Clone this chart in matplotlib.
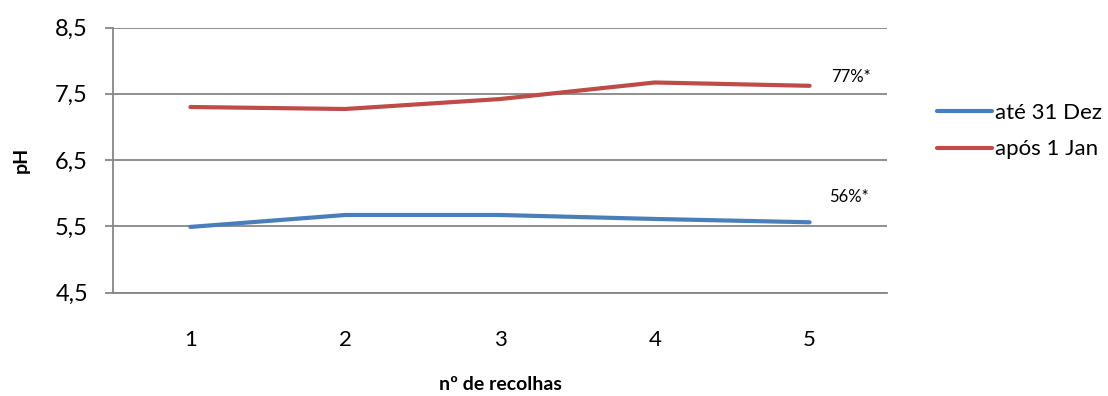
import matplotlib
matplotlib.use("Agg")
import matplotlib.pyplot as plt

categories = [1, 2, 3, 4, 5]
ate_31_dez = [5.49, 5.67, 5.67, 5.61, 5.56]
apos_1_jan = [7.30, 7.27, 7.42, 7.67, 7.62]
series_names = ["até 31 Dez", "após 1 Jan"]
end_labels = ["56%*", "77%*"]
yticks = [4.5, 5.5, 6.5, 7.5, 8.5]
ytick_labels = ["4,5", "5,5", "6,5", "7,5", "8,5"]

plt.rcParams['font.family'] = ['Lato', 'DejaVu Sans']

fig = plt.figure(figsize=(11.08, 3.96), dpi=100)
ax = fig.add_axes([113/1108, 1 - 292.5/396, (887-113)/1108, (292.5-27.5)/396])

blue = "#4A7EBB"
red = "#BE4B48"
grid = "#868686"

l1, = ax.plot(categories, ate_31_dez, color=blue, lw=3, solid_capstyle='round', label=series_names[0])
l2, = ax.plot(categories, apos_1_jan, color=red, lw=3, solid_capstyle='round', label=series_names[1])

ax.set_xlim(0.5, 5.5)
ax.set_ylim(4.5, 8.5)
ax.set_yticks(yticks)
ax.set_yticklabels(ytick_labels)
ax.set_xticks(categories)
ax.set_xticklabels([str(c) for c in categories])
ax.yaxis.grid(True, color=grid, lw=1.3)
ax.set_axisbelow(True)
for s in ['top', 'right']:
    ax.spines[s].set_visible(False)
for s in ['left', 'bottom']:
    ax.spines[s].set_color(grid)
    ax.spines[s].set_linewidth(1.3)
ax.tick_params(axis='y', length=6, color=grid, width=1.3, labelsize=17, pad=12)
ax.tick_params(axis='x', length=0, labelsize=16, pad=27)

ax.set_ylabel("pH", fontsize=14, fontweight='bold', labelpad=18)
ax.set_xlabel("nº de recolhas", fontsize=14, fontweight='bold', labelpad=19)

ax.annotate(end_labels[1], xy=(categories[-1], apos_1_jan[-1]), xytext=(30, 6),
            textcoords='offset points', fontsize=12, ha='center', va='center', annotation_clip=False)
ax.annotate(end_labels[0], xy=(categories[-1], ate_31_dez[-1]), xytext=(28, 18),
            textcoords='offset points', fontsize=12, ha='center', va='center', annotation_clip=False)

fig.legend(handles=[l1, l2], loc='center left', bbox_to_anchor=(928/1108, 1 - 131/396),
           frameon=False, fontsize=16, handlelength=2.5, handletextpad=0.1,
           labelspacing=0.75, borderaxespad=0)

fig.savefig("out.png", dpi=100)
